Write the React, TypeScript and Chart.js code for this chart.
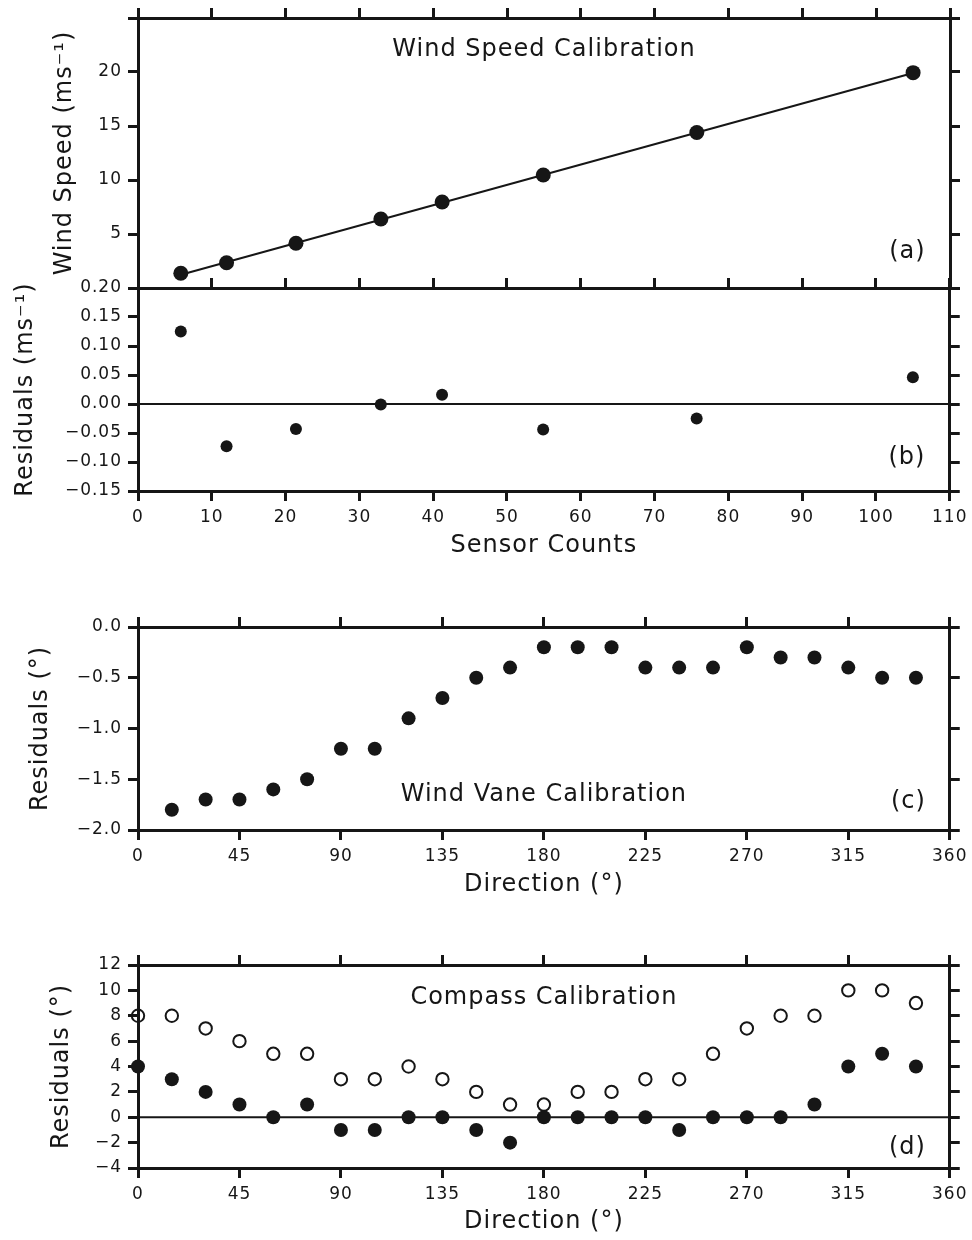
import React, { useEffect, useRef } from 'react';
import { Chart, registerables } from 'chart.js';

Chart.register(...registerables);

const INK = '#161616';
const FONT_FAMILY = '"DejaVu Sans", "Liberation Sans", sans-serif';
const TICK_FONT_SIZE = 17;
const TITLE_FONT_SIZE = 24;

// ---- (a) / (b) Wind speed calibration ----
const sensorCounts = [5.8, 12.0, 21.4, 32.9, 41.2, 54.9, 75.7, 105.0];
const windSpeeds = [1.36, 2.34, 4.14, 6.39, 7.96, 10.46, 14.4, 19.94];
const fitLineCounts = [5.8, 105.0];
const fitLineSpeeds = [1.23, 19.9];
const speedResiduals = [0.125, -0.073, -0.043, -0.001, 0.016, -0.044, -0.025, 0.046];
const countsZeroLine = [0, 110];

// ---- (c) Wind vane calibration ----
const vaneDirections = [15, 30, 45, 60, 75, 90, 105, 120, 135, 150, 165, 180, 195, 210, 225, 240, 255, 270, 285, 300, 315, 330, 345];
const vaneResiduals = [-1.8, -1.7, -1.7, -1.6, -1.5, -1.2, -1.2, -0.9, -0.7, -0.5, -0.4, -0.2, -0.2, -0.2, -0.4, -0.4, -0.4, -0.2, -0.3, -0.3, -0.4, -0.5, -0.5];

// ---- (d) Compass calibration ----
const compassDirections = [0, 15, 30, 45, 60, 75, 90, 105, 120, 135, 150, 165, 180, 195, 210, 225, 240, 255, 270, 285, 300, 315, 330, 345];
const compassResidualsOpen = [8, 8, 7, 6, 5, 5, 3, 3, 4, 3, 2, 1, 1, 2, 2, 3, 3, 5, 7, 8, 8, 10, 10, 9];
const compassResidualsFilled = [4, 3, 2, 1, 0, 1, -1, -1, 0, 0, -1, -2, 0, 0, 0, 0, -1, 0, 0, 0, 1, 4, 5, 4];
const directionZeroLine = [0, 360];

// ---- text labels ----
const panelTitles = ['Wind Speed Calibration', 'Wind Vane Calibration', 'Compass Calibration'];
const panelLetters = ['(a)', '(b)', '(c)', '(d)'];

const pts = (xs: number[], ys: number[]) => xs.map((x, i) => ({ x, y: ys[i] }));

const fmt = (decimals: number, hide: number[] = []) => (v: number | string) => {
  const n = Number(v);
  if (hide.some((h) => Math.abs(h - n) < 1e-9)) return '';
  const s = Math.abs(n) < 1e-9 ? (0).toFixed(decimals) : n.toFixed(decimals);
  return s.replace('-', '\u2212');
};

type TextItem = { text: string; x: number; y: number; align: CanvasTextAlign };

type PanelSpec = {
  top: number;
  height: number;
  topH: number;
  bottomH: number;
  xMin: number;
  xMax: number;
  xStep: number;
  yMin: number;
  yMax: number;
  yStep: number;
  xLabels: boolean;
  xTitle?: string;
  xTitlePad?: number;
  yTitle: string;
  yTitlePad: number;
  yFmt: (v: number | string) => string;
  datasets: any[];
  texts: TextItem[];
};

const makeTextPlugin = (items: TextItem[]) => ({
  id: 'panelText',
  beforeDraw(chart: any) {
    chart.ctx.letterSpacing = '1px';
  },
  afterDatasetsDraw(chart: any) {
    const ctx = chart.ctx;
    const xs = chart.scales.x;
    const ys = chart.scales.y;
    ctx.save();
    ctx.letterSpacing = '1px';
    ctx.fillStyle = INK;
    ctx.font = `${TITLE_FONT_SIZE}px ${FONT_FAMILY}`;
    ctx.textBaseline = 'middle';
    for (const t of items) {
      ctx.textAlign = t.align;
      ctx.fillText(t.text, xs.getPixelForValue(t.x), ys.getPixelForValue(t.y));
    }
    ctx.restore();
  },
});

function buildConfig(p: PanelSpec): any {
  const tickGrid = (draw: boolean) => ({
    display: true,
    drawOnChartArea: false,
    drawTicks: draw,
    tickLength: 10,
    lineWidth: 3,
    color: INK,
    tickColor: INK,
  });
  const border = { display: true, color: INK, width: 3 };
  const tickFont = { family: FONT_FAMILY, size: TICK_FONT_SIZE };
  const titleFont = { family: FONT_FAMILY, size: TITLE_FONT_SIZE };
  return {
    type: 'scatter',
    data: { datasets: p.datasets },
    options: {
      responsive: false,
      animation: false,
      events: [],
      layout: { padding: 0, autoPadding: false },
      plugins: { legend: { display: false }, tooltip: { enabled: false } },
      scales: {
        x: {
          type: 'linear',
          position: 'bottom',
          min: p.xMin,
          max: p.xMax,
          ticks: {
            display: p.xLabels,
            stepSize: p.xStep,
            padding: 6,
            color: INK,
            font: tickFont,
            autoSkip: false,
            maxRotation: 0,
            callback: (v: any) => String(v),
          },
          grid: tickGrid(p.xLabels),
          border,
          title: p.xTitle
            ? { display: true, text: p.xTitle, color: INK, font: titleFont, padding: { top: 0, bottom: p.xTitlePad } }
            : { display: false },
          afterFit: (s: any) => {
            s.height = p.bottomH;
          },
        },
        xTop: {
          type: 'linear',
          position: 'top',
          min: p.xMin,
          max: p.xMax,
          ticks: { display: false, stepSize: p.xStep, autoSkip: false },
          grid: tickGrid(true),
          border,
          afterFit: (s: any) => {
            s.height = p.topH;
          },
        },
        y: {
          type: 'linear',
          position: 'left',
          min: p.yMin,
          max: p.yMax,
          ticks: {
            stepSize: p.yStep,
            padding: 6,
            color: INK,
            font: tickFont,
            autoSkip: false,
            callback: p.yFmt,
          },
          grid: tickGrid(true),
          border,
          title: { display: true, text: p.yTitle, color: INK, font: titleFont, padding: { top: p.yTitlePad, bottom: 0 } },
          afterFit: (s: any) => {
            s.width = 138;
          },
        },
        yRight: {
          type: 'linear',
          position: 'right',
          min: p.yMin,
          max: p.yMax,
          ticks: { display: false, stepSize: p.yStep, autoSkip: false },
          grid: tickGrid(true),
          border,
          afterFit: (s: any) => {
            s.width = 22;
          },
        },
      },
    },
    plugins: [makeTextPlugin(p.texts)],
  };
}

const filled = (data: any[], r: number) => ({
  data,
  showLine: false,
  pointRadius: r,
  backgroundColor: INK,
  pointBackgroundColor: INK,
  pointBorderWidth: 0,
  borderWidth: 0,
  clip: false,
});

const hollow = (data: any[], r: number) => ({
  data,
  showLine: false,
  pointRadius: r,
  backgroundColor: 'rgba(0,0,0,0)',
  pointBackgroundColor: 'rgba(0,0,0,0)',
  borderColor: INK,
  pointBorderColor: INK,
  pointBorderWidth: 2,
  clip: false,
});

const line = (data: any[]) => ({
  data,
  showLine: true,
  borderColor: INK,
  borderWidth: 2,
  pointRadius: 0,
  clip: false,
});

const panels: PanelSpec[] = [
  {
    top: 0,
    height: 310,
    topH: 18,
    bottomH: 22,
    xMin: 0,
    xMax: 110,
    xStep: 10,
    yMin: 0,
    yMax: 25,
    yStep: 5,
    xLabels: false,
    yTitle: 'Wind Speed (ms\u207B\u00B9)',
    yTitlePad: 50,
    yFmt: fmt(0, [0, 25]),
    datasets: [filled(pts(sensorCounts, windSpeeds), 7.5), line(pts(fitLineCounts, fitLineSpeeds))],
    texts: [
      { text: panelTitles[0], x: 55, y: 22.1, align: 'center' },
      { text: panelLetters[0], x: 106.7, y: 3.4, align: 'right' },
    ],
  },
  {
    top: 270,
    height: 300,
    topH: 18,
    bottomH: 79,
    xMin: 0,
    xMax: 110,
    xStep: 10,
    yMin: -0.15,
    yMax: 0.2,
    yStep: 0.05,
    xLabels: true,
    xTitle: 'Sensor Counts',
    xTitlePad: 9.6,
    yTitle: 'Residuals (ms\u207B\u00B9)',
    yTitlePad: 11.6,
    yFmt: fmt(2),
    datasets: [
      filled(pts(sensorCounts, speedResiduals), 6),
      line(pts(countsZeroLine, countsZeroLine.map(() => 0))),
    ],
    texts: [{ text: panelLetters[1], x: 106.7, y: -0.093, align: 'right' }],
  },
  {
    top: 600,
    height: 310,
    topH: 27,
    bottomH: 80,
    xMin: 0,
    xMax: 360,
    xStep: 45,
    yMin: -2,
    yMax: 0,
    yStep: 0.5,
    xLabels: true,
    xTitle: 'Direction (\u00B0)',
    xTitlePad: 10.6,
    yTitle: 'Residuals (\u00B0)',
    yTitlePad: 26.6,
    yFmt: fmt(1),
    datasets: [filled(pts(vaneDirections, vaneResiduals), 7)],
    texts: [
      { text: panelTitles[1], x: 180, y: -1.655, align: 'center' },
      { text: panelLetters[2], x: 349.4, y: -1.722, align: 'right' },
    ],
  },
  {
    top: 940,
    height: 300,
    topH: 25,
    bottomH: 72,
    xMin: 0,
    xMax: 360,
    xStep: 45,
    yMin: -4,
    yMax: 12,
    yStep: 2,
    xLabels: true,
    xTitle: 'Direction (\u00B0)',
    xTitlePad: 3.6,
    yTitle: 'Residuals (\u00B0)',
    yTitlePad: 47.6,
    yFmt: fmt(0),
    datasets: [
      filled(pts(compassDirections, compassResidualsFilled), 7),
      hollow(pts(compassDirections, compassResidualsOpen), 6.2),
      line(pts(directionZeroLine, directionZeroLine.map(() => 0))),
    ],
    texts: [
      { text: panelTitles[2], x: 180, y: 9.4, align: 'center' },
      { text: panelLetters[3], x: 349.4, y: -2.42, align: 'right' },
    ],
  },
];

function Panel({ spec }: { spec: PanelSpec }) {
  const ref = useRef<HTMLCanvasElement>(null);
  useEffect(() => {
    if (!ref.current) return;
    const chart = new Chart(ref.current, buildConfig(spec));
    return () => chart.destroy();
  }, [spec]);
  return (
    <canvas
      ref={ref}
      width={972}
      height={spec.height}
      style={{ position: 'absolute', left: 0, top: spec.top, width: 972, height: spec.height }}
    />
  );
}

export default function App() {
  return (
    <div style={{ position: 'absolute', left: 0, top: 0, width: 972, height: 1240, background: '#fff' }}>
      {panels.map((p, i) => (
        <Panel key={i} spec={p} />
      ))}
    </div>
  );
}
